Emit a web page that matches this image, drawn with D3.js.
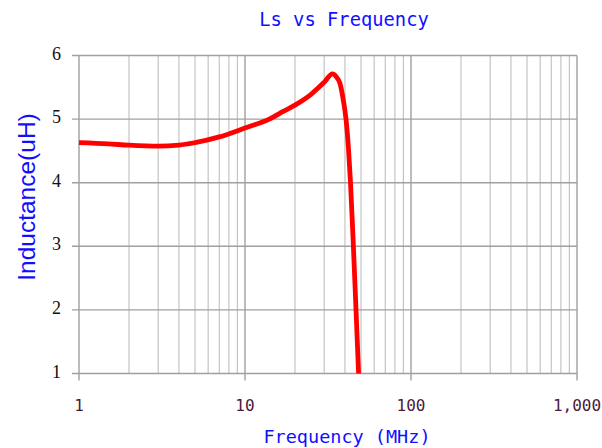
<!DOCTYPE html>
<html>
<head>
<meta charset="utf-8">
<script src="https://cdn.jsdelivr.net/npm/d3@7"></script>
<style>
  body { margin: 0; background: #fff; }
  svg { display: block; }
</style>
</head>
<body>
<svg class="svg" width="602" height="448"></svg>
<script>
// values
const freq = [1, 1.5, 2, 3, 4, 5, 7, 10, 14, 17, 20, 25, 30, 33.66, 35.58, 37.35, 39.1, 40.59, 42.09, 43.21, 44.98, 46.64, 48.34];
const ls = [4.63, 4.61, 4.59, 4.575, 4.59, 4.63, 4.72, 4.86, 5.0, 5.12, 5.22, 5.39, 5.58, 5.71, 5.66, 5.56, 5.30, 5.0, 4.5, 4.0, 3.0, 2.0, 1.0];
const xTicks = [1, 10, 100, 1000];
const yTicks = [1, 2, 3, 4, 5, 6];

const svg = d3.select(".svg");
const plotL = 79, plotR = 577, plotT = 55.5, plotB = 373.5;

const x = d3.scaleLog().domain([1, 1000]).range([plotL, plotR]);
const y = d3.scaleLinear().domain([1, 6]).range([plotB, plotT]);

// minor vertical grid
const minor = [];
[1, 10, 100].forEach(d => { for (let k = 2; k <= 9; k++) minor.push(d * k); });

svg.append("g").selectAll("line").data(minor).join("line")
  .attr("x1", d => x(d)).attr("x2", d => x(d))
  .attr("y1", plotT).attr("y2", plotB)
  .attr("stroke", "#c4c4c4").attr("stroke-width", 1.2);

svg.append("g").selectAll("line").data(xTicks).join("line")
  .attr("x1", d => x(d)).attr("x2", d => x(d))
  .attr("y1", plotT).attr("y2", plotB + 7)
  .attr("stroke", "#a0a0a0").attr("stroke-width", 1.4);

svg.append("g").selectAll("line").data(yTicks).join("line")
  .attr("x1", plotL - 7).attr("x2", plotR)
  .attr("y1", d => y(d)).attr("y2", d => y(d))
  .attr("stroke", "#a0a0a0").attr("stroke-width", 1.4);

// tick labels
svg.append("g").selectAll("text").data(yTicks).join("text")
  .attr("x", 61).attr("y", d => y(d))
  .attr("text-anchor", "end").attr("dominant-baseline", "middle")
  .attr("font-family", "Liberation Serif").attr("font-size", 18)
  .attr("fill", "#111").text(d => d);

svg.append("g").selectAll("text").data(xTicks).join("text")
  .attr("x", d => x(d)).attr("y", 411)
  .attr("text-anchor", "middle")
  .attr("font-family", "DejaVu Sans Mono").attr("font-size", 16)
  .attr("fill", "#4a1a3a").text(d => d3.format(",")(d));

// curve
const pts = freq.map((f, i) => ({ f: f, v: ls[i] }));
svg.append("path").datum(pts)
  .attr("d", d3.line().x(d => x(d.f)).y(d => y(d.v)).curve(d3.curveMonotoneX))
  .attr("fill", "none").attr("stroke", "#ff0000").attr("stroke-width", 4.8)
  .attr("stroke-linejoin", "round");

// titles
svg.append("text").attr("x", 344).attr("y", 26).attr("text-anchor", "middle")
  .attr("font-family", "DejaVu Sans Mono").attr("font-size", 18.8)
  .attr("fill", "#1010ff").text("Ls vs Frequency");

svg.append("text").attr("x", 347).attr("y", 443).attr("text-anchor", "middle")
  .attr("font-family", "DejaVu Sans Mono").attr("font-size", 18.5)
  .attr("fill", "#1010ff").text("Frequency (MHz)");

svg.append("text").attr("transform", "translate(35,197) rotate(-90)")
  .attr("text-anchor", "middle")
  .attr("font-family", "Liberation Sans").attr("font-size", 24.5)
  .attr("fill", "#1010ff").text("Inductance(uH)");
</script>
</body>
</html>
